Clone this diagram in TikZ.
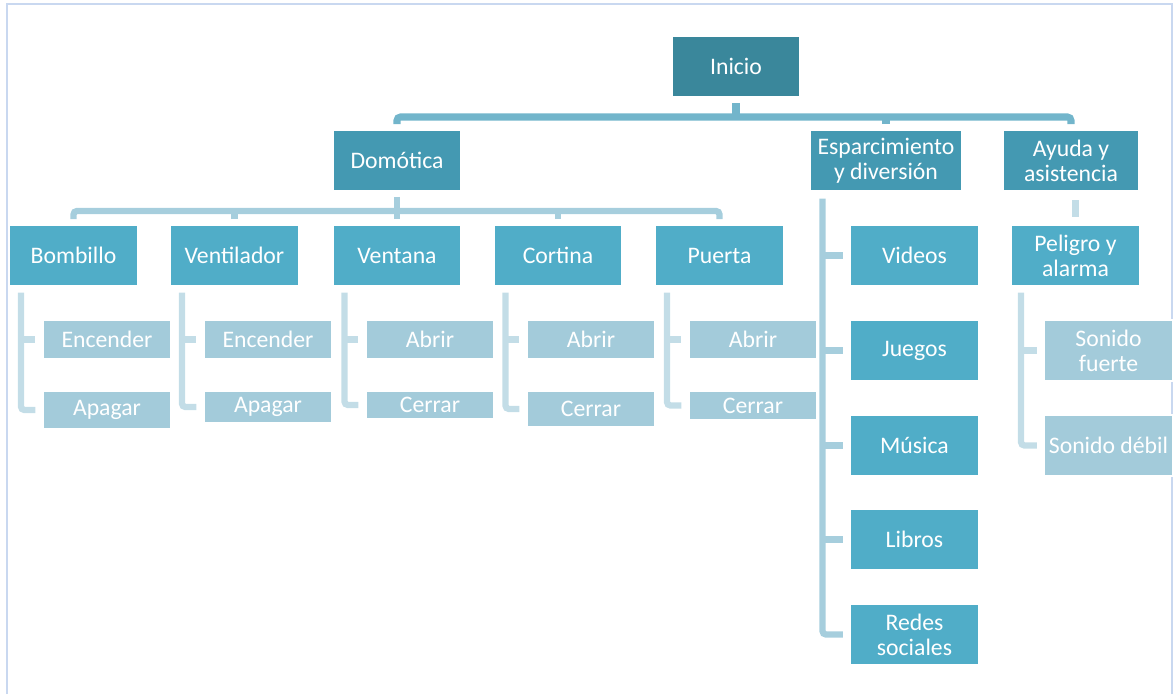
\documentclass[tikz,border=0pt]{standalone}
\usepackage{fontspec}
\setmainfont{Carlito}
\definecolor{rootteal}{HTML}{3A879B}
\definecolor{groupteal}{HTML}{4499B2}
\definecolor{itemblue}{HTML}{50ADC8}
\definecolor{leafblue}{HTML}{A3CBDA}
\definecolor{busteal}{HTML}{72B5CB}
\definecolor{buslight}{HTML}{A6CEDD}
\definecolor{busfaint}{HTML}{C3DDE7}
\definecolor{framecolor}{HTML}{C9D8F0}
\tikzset{
  box/.style={draw=white, line width=0.6pt, text=white, align=center, inner sep=0pt,
    font=\fontsize{13.5pt}{14.2pt}\selectfont, minimum width=2.56cm, minimum height=1.22cm},
  rootbox/.style={box, fill=rootteal},
  groupbox/.style={box, fill=groupteal},
  itembox/.style={box, fill=itemblue},
  leafbox/.style={box, fill=leafblue},
  mainbus/.style={line width=4pt, draw=busteal, rounded corners=2pt},
  subbus/.style={line width=3.6pt, draw=buslight, rounded corners=2pt},
  leafbus/.style={line width=3.6pt, draw=busfaint, rounded corners=2pt, shorten >=4pt},
  frameline/.style={line width=1.6pt, draw=framecolor},
}

\begin{document}
\begin{tikzpicture}[x=0.02cm, y=-0.02cm]
\useasboundingbox (0,0) rectangle (1174,694);
\draw[frameline] (7,694) -- (7,4) -- (1172,4) -- (1172,694);

% top levels
\node[rootbox] (inicio) at (736,66.5) {Inicio};
\node[groupbox] (domotica) at (397,160.5) {Domótica};
\node[groupbox, minimum width=3.04cm] (esparc) at (886,160.5) {Esparcimiento\\y diversión};
\node[groupbox, minimum width=2.72cm] (ayuda) at (1071,160.5) {Ayuda y\\asistencia};

% domotica items
\node[itembox] (bombillo) at (73.5,255.5) {Bombillo};
\node[itembox] (ventilador) at (234.5,255.5) {Ventilador};
\node[itembox] (ventana) at (397,255.5) {Ventana};
\node[itembox] (cortina) at (558,255.5) {Cortina};
\node[itembox] (puerta) at (719.5,255.5) {Puerta};

\node[leafbox, minimum height=0.78cm] (encA) at (107,339.5) {Encender};
\node[leafbox, minimum height=0.76cm] (apaA) at (107,410) {Apagar};
\node[leafbox, minimum height=0.78cm] (encB) at (268,339.5) {Encender};
\node[leafbox, minimum height=0.64cm] (apaB) at (268,407) {Apagar};
\node[leafbox, minimum height=0.78cm] (abrC) at (430,339.5) {Abrir};
\node[leafbox, minimum height=0.56cm] (cerC) at (430,405) {Cerrar};
\node[leafbox, minimum height=0.78cm] (abrD) at (591,339.5) {Abrir};
\node[leafbox, minimum height=0.72cm] (cerD) at (591,409) {Cerrar};
\node[leafbox, minimum height=0.78cm] (abrE) at (753,339.5) {Abrir};
\node[leafbox, minimum height=0.58cm] (cerE) at (753,405.5) {Cerrar};

% esparcimiento items
\node[itembox] (videos) at (914.5,255.5) {Videos};
\node[itembox] (juegos) at (914.5,350.5) {Juegos};
\node[itembox] (musica) at (914.5,445.5) {Música};
\node[itembox] (libros) at (914.5,539.5) {Libros};
\node[itembox] (redes) at (914.5,634.5) {Redes\\sociales};

% ayuda items
\node[itembox] (peligro) at (1075.5,255.5) {Peligro y\\alarma};
\node[leafbox] (fuerte) at (1108.5,350.5) {Sonido\\fuerte};
\node[leafbox] (debil) at (1108.5,445.5) {Sonido débil};

% connectors
\coordinate (hub) at (736,117);
\draw[mainbus, shorten <=3pt] (inicio.south) -- (hub);
\draw[mainbus, shorten <=3pt, shorten >=3pt] (domotica.north) -- (domotica.north |- hub) -- (ayuda.north |- hub) -- (ayuda.north);
\draw[mainbus, shorten <=3pt] (esparc.north) -- (esparc.north |- hub);

\coordinate (dhub) at (397,211);
\draw[subbus, shorten <=3pt] (domotica.south) -- (dhub);
\draw[subbus, shorten <=3pt, shorten >=3pt] (bombillo.north) -- (bombillo.north |- dhub) -- (puerta.north |- dhub) -- (puerta.north);
\foreach \n in {ventilador, ventana, cortina}
  \draw[subbus, shorten <=3pt] (\n.north) -- (\n.north |- dhub);

\foreach \p/\a/\b in {bombillo/encA/apaA, ventilador/encB/apaB, ventana/abrC/cerC, cortina/abrD/cerD, puerta/abrE/cerE}{
  \coordinate (\p-top) at ([xshift=0.24cm, yshift=-0.12cm]\p.south west);
  \draw[leafbus] (\p-top) |- (\b.west);
  \draw[leafbus] (\p-top |- \a.west) -- (\a.west);
}

\coordinate (esparc-top) at ([xshift=0.26cm, yshift=-0.14cm]esparc.south west);
\draw[subbus, shorten >=4pt] (esparc-top) |- (redes.west);
\foreach \n in {videos, juegos, musica, libros}
  \draw[subbus, shorten >=4pt] (esparc-top |- \n.west) -- (\n.west);

\draw[leafbus, shorten <=5pt] (ayuda.south -| peligro.north) -- (peligro.north);
\coordinate (peligro-top) at ([xshift=0.2cm, yshift=-0.12cm]peligro.south west);
\draw[leafbus] (peligro-top) |- (debil.west);
\draw[leafbus] (peligro-top |- fuerte.west) -- (fuerte.west);
\end{tikzpicture}
\end{document}
